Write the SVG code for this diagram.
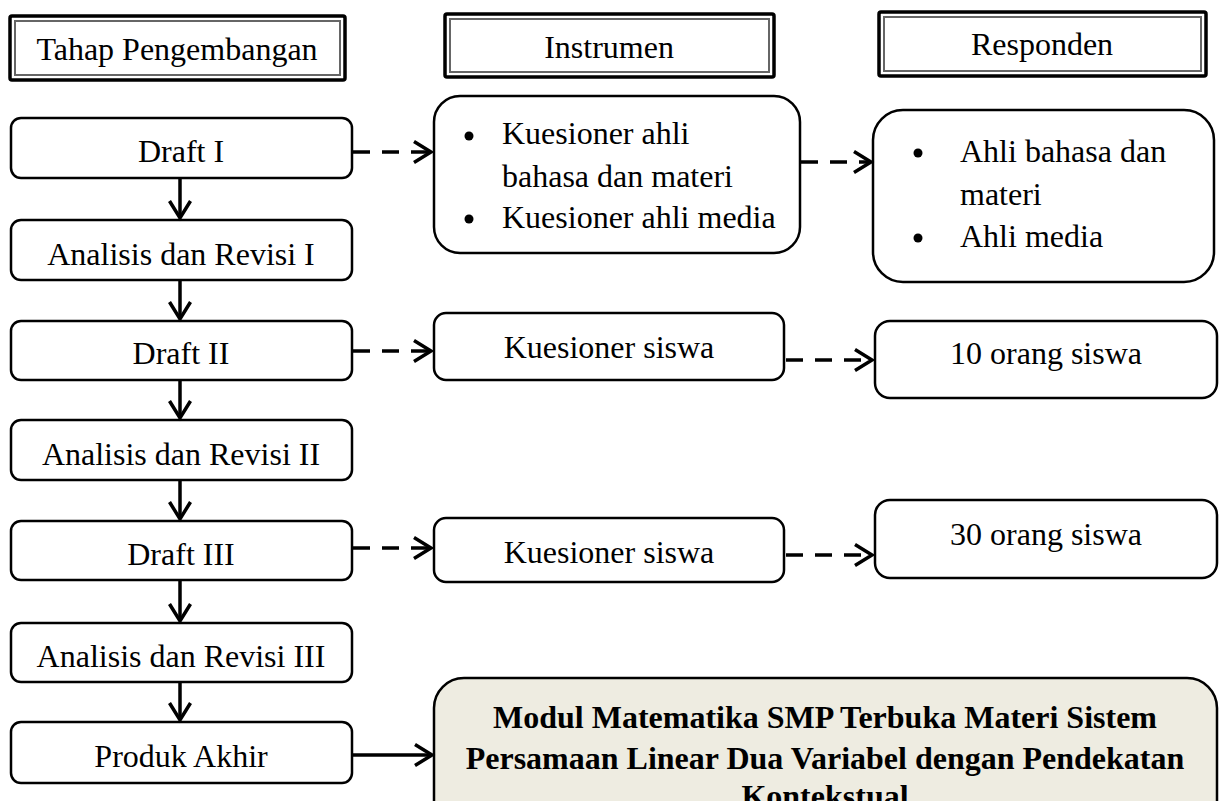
<svg xmlns="http://www.w3.org/2000/svg" width="1219" height="801" viewBox="0 0 1219 801">
<style>
text{font-family:"Liberation Serif","Times New Roman",serif;font-size:32px;fill:#000}
.c{text-anchor:middle}
.b{font-weight:bold}
.hd-o{fill:#fff;stroke:#000;stroke-width:3.5}
.hd-i{fill:none;stroke:#666;stroke-width:2}
.nd{fill:#fff;stroke:#000;stroke-width:2.5}
.fin{fill:#EEECE1;stroke:#000;stroke-width:2.5}
.ln{fill:none;stroke:#000;stroke-width:3.5}
.ds{stroke-dasharray:17 12}
</style>
<defs>
<marker id="arr" markerUnits="userSpaceOnUse" markerWidth="26" markerHeight="28" refX="20" refY="12" orient="auto" overflow="visible">
<path d="M3,1.5 L20,12 L3,22.5" fill="none" stroke="#000" stroke-width="3.5" stroke-dasharray="none"/>
</marker>
</defs>

<g id="hdr-tahap">
<rect class="hd-o" x="10" y="16" width="335" height="64" rx="2"/>
<rect class="hd-i" x="15" y="21" width="325" height="54"/>
<text class="c" x="177" y="60">Tahap Pengembangan</text>
</g>
<g id="hdr-instrumen">
<rect class="hd-o" x="445" y="14" width="329" height="63" rx="2"/>
<rect class="hd-i" x="450" y="19" width="319" height="53"/>
<text class="c" x="609" y="58">Instrumen</text>
</g>
<g id="hdr-responden">
<rect class="hd-o" x="879" y="12" width="327" height="64" rx="2"/>
<rect class="hd-i" x="884" y="17" width="317" height="54"/>
<text class="c" x="1042" y="55">Responden</text>
</g>

<g id="draft1"><rect class="nd" x="11" y="118" width="341" height="60" rx="10"/><text class="c" x="181" y="162">Draft I</text></g>
<g id="analisis1"><rect class="nd" x="11" y="220" width="341" height="60" rx="10"/><text class="c" x="181" y="265">Analisis dan Revisi I</text></g>
<g id="draft2"><rect class="nd" x="11" y="321" width="341" height="59" rx="10"/><text class="c" x="181" y="364">Draft II</text></g>
<g id="analisis2"><rect class="nd" x="11" y="420" width="341" height="60" rx="10"/><text class="c" x="181" y="465">Analisis dan Revisi II</text></g>
<g id="draft3"><rect class="nd" x="11" y="521" width="341" height="59" rx="10"/><text class="c" x="181" y="565">Draft III</text></g>
<g id="analisis3"><rect class="nd" x="11" y="623" width="341" height="59" rx="10"/><text class="c" x="181" y="667">Analisis dan Revisi III</text></g>
<g id="produk"><rect class="nd" x="11" y="722" width="341" height="61" rx="10"/><text class="c" x="181" y="767">Produk Akhir</text></g>

<g id="kuesioner-ahli">
<rect class="nd" x="434" y="96" width="366" height="157" rx="26"/>
<circle cx="469" cy="136" r="4.5"/>
<circle cx="469" cy="219" r="4.5"/>
<text x="502" y="144">Kuesioner ahli</text>
<text x="502" y="187">bahasa dan materi</text>
<text x="502" y="228">Kuesioner ahli media</text>
</g>
<g id="resp-ahli">
<rect class="nd" x="873" y="110" width="341" height="172" rx="30"/>
<circle cx="918" cy="153" r="4.5"/>
<circle cx="918" cy="238" r="4.5"/>
<text x="960" y="162">Ahli bahasa dan</text>
<text x="960" y="205">materi</text>
<text x="960" y="247">Ahli media</text>
</g>
<g id="kuesioner-siswa1"><rect class="nd" x="434" y="313" width="350" height="67" rx="12"/><text class="c" x="609" y="358">Kuesioner siswa</text></g>
<g id="resp-10"><rect class="nd" x="875" y="321" width="342" height="77" rx="15"/><text class="c" x="1046" y="364">10 orang siswa</text></g>
<g id="kuesioner-siswa2"><rect class="nd" x="434" y="518" width="350" height="64" rx="12"/><text class="c" x="609" y="563">Kuesioner siswa</text></g>
<g id="resp-30"><rect class="nd" x="875" y="500" width="342" height="78" rx="15"/><text class="c" x="1046" y="545">30 orang siswa</text></g>

<g id="modul">
<rect class="fin" x="434" y="678" width="783" height="160" rx="30"/>
<text class="c b" x="825" y="728">Modul Matematika SMP Terbuka Materi Sistem</text>
<text class="c b" x="825" y="769">Persamaan Linear Dua Variabel dengan Pendekatan</text>
<text class="c b" x="825" y="807">Kontekstual</text>
</g>

<g id="connectors">
<line class="ln" x1="180" y1="178" x2="180" y2="218" marker-end="url(#arr)"/>
<line class="ln" x1="180" y1="280" x2="180" y2="319" marker-end="url(#arr)"/>
<line class="ln" x1="180" y1="380" x2="180" y2="418" marker-end="url(#arr)"/>
<line class="ln" x1="180" y1="480" x2="180" y2="519" marker-end="url(#arr)"/>
<line class="ln" x1="180" y1="580" x2="180" y2="621" marker-end="url(#arr)"/>
<line class="ln" x1="180" y1="682" x2="180" y2="720" marker-end="url(#arr)"/>
<line class="ln ds" x1="353" y1="152" x2="431" y2="152" marker-end="url(#arr)"/>
<line class="ln ds" x1="801" y1="162" x2="871" y2="162" marker-end="url(#arr)"/>
<line class="ln ds" x1="353" y1="351" x2="431" y2="351" marker-end="url(#arr)"/>
<line class="ln ds" x1="786" y1="360" x2="872" y2="360" marker-end="url(#arr)"/>
<line class="ln ds" x1="353" y1="548" x2="431" y2="548" marker-end="url(#arr)"/>
<line class="ln ds" x1="786" y1="555" x2="872" y2="555" marker-end="url(#arr)"/>
<line class="ln" x1="353" y1="755" x2="432" y2="755" marker-end="url(#arr)"/>
</g>
</svg>
